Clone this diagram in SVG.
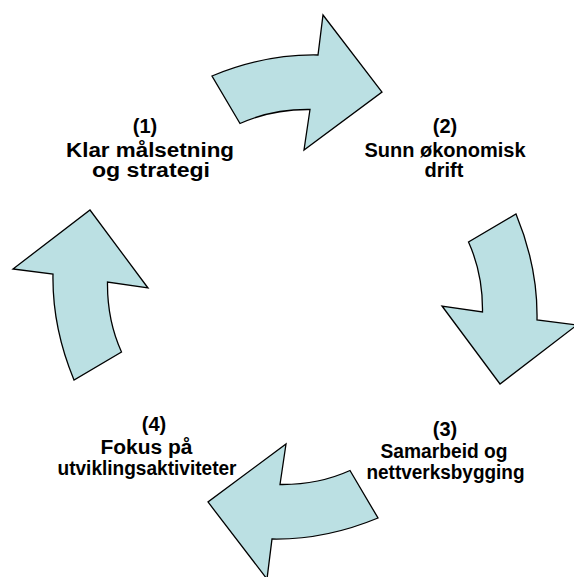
<svg xmlns="http://www.w3.org/2000/svg" xmlns:xlink="http://www.w3.org/1999/xlink" width="574" height="577" viewBox="0 0 574 577">
  <style>
    .arrow { fill: #BBE0E3; stroke: #000000; stroke-width: 1.3; stroke-linejoin: miter; }
    .lbl { font-family: "Liberation Sans", Arial, sans-serif; font-weight: bold; font-size: 20px; fill: #000000; text-anchor: middle; }
  </style>
  <defs>
    <path id="curvedArrow" class="arrow" d="M212,76 Q265,54 318,55 L323,15 L382,92 L304,150 L310,109.5 Q272,109 240,123.5 Z"/>
  </defs>
  <rect width="574" height="577" fill="#FFFFFF"/>
  <g id="connectors">
    <use id="arrow-1-2" xlink:href="#curvedArrow"/>
    <use id="arrow-2-3" xlink:href="#curvedArrow" transform="rotate(90 295 297)"/>
    <use id="arrow-3-4" xlink:href="#curvedArrow" transform="rotate(180 295 297)"/>
    <use id="arrow-4-1" xlink:href="#curvedArrow" transform="rotate(270 295 297)"/>
  </g>
  <g id="node-1">
    <text class="lbl" x="145" y="133">(1)</text>
    <text class="lbl" x="150" y="157" textLength="168" lengthAdjust="spacingAndGlyphs">Klar målsetning</text>
    <text class="lbl" x="151" y="177" textLength="118" lengthAdjust="spacingAndGlyphs">og strategi</text>
  </g>
  <g id="node-2">
    <text class="lbl" x="445" y="133">(2)</text>
    <text class="lbl" x="445" y="157">Sunn økonomisk</text>
    <text class="lbl" x="444" y="177">drift</text>
  </g>
  <g id="node-3">
    <text class="lbl" x="445" y="436">(3)</text>
    <text class="lbl" x="444" y="458" textLength="127" lengthAdjust="spacingAndGlyphs">Samarbeid og</text>
    <text class="lbl" x="445.5" y="479" textLength="158" lengthAdjust="spacingAndGlyphs">nettverksbygging</text>
  </g>
  <g id="node-4">
    <text class="lbl" x="154" y="431">(4)</text>
    <text class="lbl" x="146.5" y="454" textLength="92" lengthAdjust="spacingAndGlyphs">Fokus på</text>
    <text class="lbl" x="147" y="475" textLength="179" lengthAdjust="spacingAndGlyphs">utviklingsaktiviteter</text>
  </g>
</svg>
